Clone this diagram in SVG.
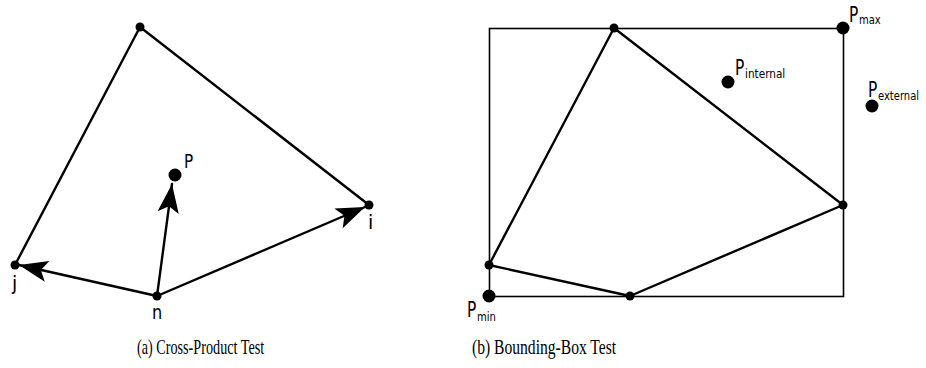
<svg xmlns="http://www.w3.org/2000/svg" width="926" height="368" viewBox="0 0 926 368">
<style>
.edge{fill:none;stroke:#000;stroke-width:2.4;stroke-linecap:round;stroke-linejoin:round}
.box{fill:none;stroke:#000;stroke-width:1.6}
.vtx{fill:#000}
.lbl{font-family:"DejaVu Sans",sans-serif;font-size:19px;fill:#000}
.bigP{font-family:"DejaVu Sans",sans-serif;font-size:22px;fill:#000}
.sub{font-family:"DejaVu Sans",sans-serif;font-size:12.5px;fill:#000}
.cap{font-family:"Liberation Serif",serif;font-size:20px;fill:#000}
</style>
<defs>
<marker id="arr" markerUnits="userSpaceOnUse" markerWidth="32" markerHeight="24" viewBox="-28 -11 30 22" refX="0" refY="0" orient="auto">
<path d="M0,0 L-27,-10 L-21,0 L-27,10 Z" fill="#000"/>
</marker>
</defs>
<rect width="926" height="368" fill="#fff"/>
<g id="connectors">
<line class="edge" x1="140" y1="27" x2="15" y2="265"/>
<line class="edge" x1="140" y1="27" x2="369" y2="205"/>
<line class="edge" x1="157" y1="296" x2="19" y2="265" marker-end="url(#arr)"/>
<line class="edge" x1="157" y1="296" x2="172" y2="184" marker-end="url(#arr)"/>
<line class="edge" x1="157" y1="296" x2="365" y2="207" marker-end="url(#arr)"/>
<rect class="box" x="489.5" y="28.5" width="354" height="268"/>
<polygon class="edge" points="614,28 843,205 630,296 489,265"/>
</g>
<g id="node-top"><circle class="vtx" cx="140" cy="27" r="4.5"/></g>
<g id="node-i"><circle class="vtx" cx="369" cy="205" r="4.5"/><text class="lbl" x="368" y="229">i</text></g>
<g id="node-j"><circle class="vtx" cx="15" cy="265" r="4.5"/><text class="lbl" x="12" y="290">j</text></g>
<g id="node-n"><circle class="vtx" cx="157" cy="296" r="4.5"/><text class="lbl" transform="translate(152,319) scale(0.85,1)">n</text></g>
<g id="node-P"><circle class="vtx" cx="175" cy="175" r="6.5"/><text class="lbl" transform="translate(184,168) scale(0.8,1)">P</text></g>
<g id="node-btop"><circle class="vtx" cx="614" cy="28" r="4.5"/></g>
<g id="node-bright"><circle class="vtx" cx="843" cy="205" r="4.5"/></g>
<g id="node-bbottom"><circle class="vtx" cx="630" cy="296" r="4.5"/></g>
<g id="node-bleft"><circle class="vtx" cx="489" cy="265" r="4.5"/></g>
<g id="node-Pmax"><circle class="vtx" cx="843" cy="28" r="6.5"/><text class="bigP" transform="translate(849,22) scale(0.7,1)">P</text><text class="sub" transform="translate(859,24) scale(0.8,1)">max</text></g>
<g id="node-Pmin"><circle class="vtx" cx="489" cy="296" r="6.5"/><text class="bigP" transform="translate(467,317) scale(0.7,1)">P</text><text class="sub" transform="translate(477,321) scale(0.8,1)">min</text></g>
<g id="node-Pinternal"><circle class="vtx" cx="728" cy="82" r="6.5"/><text class="bigP" transform="translate(735,75) scale(0.7,1)">P</text><text class="sub" transform="translate(745,78) scale(0.84,1)">internal</text></g>
<g id="node-Pexternal"><circle class="vtx" cx="872" cy="106" r="6.5"/><text class="bigP" transform="translate(868,97) scale(0.7,1)">P</text><text class="sub" transform="translate(878,100) scale(0.8,1)">external</text></g>
<g id="captions">
<text class="cap" transform="translate(137,354) scale(0.71,1)">(a) Cross-Product Test</text>
<text class="cap" transform="translate(472,354) scale(0.78,1)">(b) Bounding-Box Test</text>
</g>
</svg>
